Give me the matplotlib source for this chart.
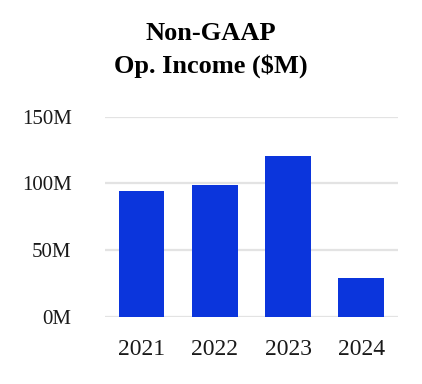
import matplotlib
matplotlib.use("Agg")
import matplotlib.pyplot as plt

years = ["2021", "2022", "2023", "2024"]
values = [94.0, 98.5, 120.8, 29.3]
yticks = [0, 50, 100, 150]
ytick_labels = ["0M", "50M", "100M", "150M"]

plt.rcParams['font.family'] = ['Liberation Serif', 'DejaVu Serif']

fig = plt.figure(figsize=(4.22, 3.84), dpi=100)
ax = fig.add_axes([0.2488, 0.1745, 0.694, 0.5215])
ax.bar(range(len(years)), values, width=0.625, color="#0b35dc", zorder=3)
ax.set_xlim(-0.5, 3.5)
ax.set_ylim(0, 150)
ax.set_yticks(yticks)
ax.set_yticklabels(ytick_labels)
ax.set_xticks(range(len(years)))
ax.set_xticklabels(years)
ax.grid(axis='y', color='#e3e3e3', linewidth=1.6, zorder=0)
ax.set_axisbelow(True)
for s in ax.spines.values():
    s.set_visible(False)
ax.tick_params(axis='both', length=0, colors='#1a1a1a')
ax.tick_params(axis='y', pad=24, labelsize=15)
ax.tick_params(axis='x', pad=16, labelsize=17)
fig.text(0.5, 0.912, "Non-GAAP", ha='center', va='center', fontsize=19, fontweight='bold')
fig.text(0.5, 0.828, "Op. Income ($M)", ha='center', va='center', fontsize=19, fontweight='bold')
fig.savefig("out.png", dpi=100)
